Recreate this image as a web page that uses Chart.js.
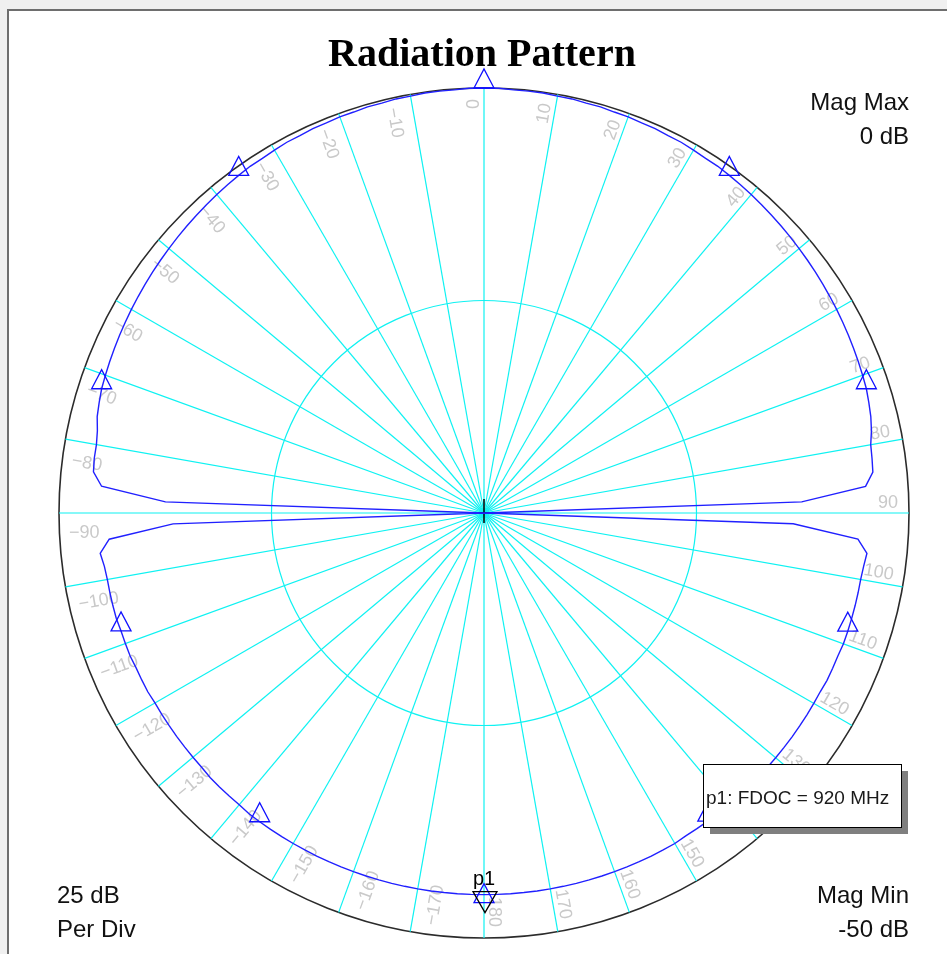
<!DOCTYPE html>
<html>
<head>
<meta charset="utf-8">
<title>Radiation Pattern</title>
<script src="https://cdn.jsdelivr.net/npm/chart.js@4.4.1/dist/chart.umd.min.js"></script>
<style>
  html, body { margin: 0; padding: 0; background: #f0f0f0; }
  canvas { display: block; }
</style>
</head>
<body>
<canvas id="pattern" width="947" height="954"></canvas>
<script>
// Sample angles in degrees, clockwise from boresight (top), one sample every 2 degrees.
const sampleAngles = [
    0,   2,   4,   6,   8,  10,  12,  14,  16,  18,  20,  22,  24,  26,  28,  30,  32,  34,
   36,  38,  40,  42,  44,  46,  48,  50,  52,  54,  56,  58,  60,  62,  64,  66,  68,  70,
   72,  74,  76,  78,  80,  82,  84,  86,  88,  90,  92,  94,  96,  98, 100, 102, 104, 106,
  108, 110, 112, 114, 116, 118, 120, 122, 124, 126, 128, 130, 132, 134, 136, 138, 140, 142,
  144, 146, 148, 150, 152, 154, 156, 158, 160, 162, 164, 166, 168, 170, 172, 174, 176, 178,
  180, 182, 184, 186, 188, 190, 192, 194, 196, 198, 200, 202, 204, 206, 208, 210, 212, 214,
  216, 218, 220, 222, 224, 226, 228, 230, 232, 234, 236, 238, 240, 242, 244, 246, 248, 250,
  252, 254, 256, 258, 260, 262, 264, 266, 268, 270, 272, 274, 276, 278, 280, 282, 284, 286,
  288, 290, 292, 294, 296, 298, 300, 302, 304, 306, 308, 310, 312, 314, 316, 318, 320, 322,
  324, 326, 328, 330, 332, 334, 336, 338, 340, 342, 344, 346, 348, 350, 352, 354, 356, 358
];

// Normalised gain in dB at each sample angle (FDOC = 920 MHz).
const gainDb = [
   0.0,  0.0, -0.1, -0.1, -0.1, -0.2, -0.2, -0.3, -0.3, -0.4, -0.4, -0.5, -0.5, -0.6, -0.6, -0.7, -0.8, -0.8,
  -0.9, -1.0, -1.1, -1.2, -1.3, -1.4, -1.5, -1.6, -1.7, -1.8, -1.9, -2.0, -2.1, -2.2, -2.3, -2.4, -2.5, -2.6,
  -2.7, -2.9, -3.1, -3.4, -3.8, -3.9, -4.0, -5.0, -12.6, -50.0, -13.6, -5.9, -4.7, -4.9, -5.0, -5.0, -5.0, -5.0,
  -5.0, -5.0, -5.1, -5.1, -5.1, -5.2, -5.2, -5.2, -5.2, -5.2, -5.2, -5.2, -5.2, -5.2, -5.2, -5.2, -5.2, -5.2,
  -5.2, -5.2, -5.2, -5.1, -5.1, -5.1, -5.1, -5.1, -5.1, -5.1, -5.1, -5.1, -5.1, -5.1, -5.1, -5.1, -5.1, -5.1,
  -5.1, -5.1, -5.1, -5.1, -5.1, -5.1, -5.1, -5.1, -5.1, -5.1, -5.1, -5.1, -5.1, -5.1, -5.1, -5.1, -5.1, -5.1,
  -5.1, -5.1, -5.2, -5.2, -5.2, -5.2, -5.3, -5.3, -5.3, -5.3, -5.3, -5.3, -5.3, -5.2, -5.2, -5.2, -5.1, -5.1,
  -5.1, -5.0, -5.0, -5.0, -5.0, -4.9, -4.6, -5.8, -13.4, -50.0, -12.5, -4.9, -3.8, -3.7, -3.7, -3.5, -3.1, -2.9,
  -2.7, -2.6, -2.5, -2.4, -2.3, -2.2, -2.1, -2.0, -1.9, -1.8, -1.7, -1.6, -1.5, -1.4, -1.3, -1.2, -1.1, -1.0,
  -0.9, -0.8, -0.8, -0.7, -0.6, -0.6, -0.5, -0.5, -0.4, -0.4, -0.3, -0.3, -0.2, -0.2, -0.1, -0.1, -0.1, 0.0
];

// Spoke labels (degrees) drawn along the angle lines, every 10 degrees.
const spokeAngles = [0, 10, 20, 30, 40, 50, 60, 70, 80, 90, 100, 110, 120, 130, 140, 150, 160, 170, 180,
  -10, -20, -30, -40, -50, -60, -70, -80, -90, -100, -110, -120, -130, -140, -150, -160, -170];

// Triangle markers placed on the trace.
const markerAngles = [0, 36, 72, 108, 144, 216, 252, 288, 324];
const activeMarkerAngle = 180;
const activeMarkerName = 'p1';
const markerReadout = 'p1: FDOC = 920 MHz';

const titleText = 'Radiation Pattern';
const magMax = ['Mag Max', '0 dB'];
const magMin = ['Mag Min', '-50 dB'];
const perDiv = ['25 dB', 'Per Div'];

const R_MIN = -50, R_MAX = 0, R_STEP = 25;

const CYAN = '#0ff2f2';
const TRACE = '#2020ff';
const SAMPLE_STEP = sampleAngles[1] - sampleAngles[0];

function indexOfAngle(deg) {
  return ((Math.round(deg / SAMPLE_STEP) % sampleAngles.length) + sampleAngles.length) % sampleAngles.length;
}

function triangle(ctx, x, y, w, h, up, color) {
  ctx.beginPath();
  ctx.moveTo(x - w / 2, y);
  ctx.lineTo(x + w / 2, y);
  ctx.lineTo(x, up ? y - h : y + h);
  ctx.closePath();
  ctx.strokeStyle = color;
  ctx.lineWidth = 1.3;
  ctx.stroke();
}

const framePlugin = {
  id: 'frame',
  beforeDraw(chart) {
    const ctx = chart.ctx;
    ctx.save();
    ctx.fillStyle = '#f0f0f0';
    ctx.fillRect(0, 0, chart.width, chart.height);
    ctx.fillStyle = '#ffffff';
    ctx.fillRect(8, 9, chart.width, chart.height);
    ctx.strokeStyle = '#6e6e6e';
    ctx.lineWidth = 2;
    ctx.beginPath();
    ctx.moveTo(8, chart.height);
    ctx.lineTo(8, 10);
    ctx.lineTo(chart.width, 10);
    ctx.stroke();
    ctx.restore();
  }
};

const spokeLabelPlugin = {
  id: 'spokeLabels',
  beforeDatasetsDraw(chart) {
    const scale = chart.scales.r;
    const ctx = chart.ctx;
    const R = scale.drawingArea;
    ctx.save();
    ctx.font = '18px "Liberation Sans", Arial, sans-serif';
    ctx.fillStyle = '#c9c9c9';
    spokeAngles.forEach(a => {
      const idx = indexOfAngle(a);
      if (a >= 0) {
        const p = scale.getPointPosition(idx, R - 11);
        ctx.save();
        ctx.translate(p.x, p.y);
        ctx.rotate((a - 90) * Math.PI / 180);
        ctx.textAlign = 'right';
        ctx.textBaseline = 'alphabetic';
        ctx.fillText(String(a), 0, -5);
        ctx.restore();
      } else {
        const p = scale.getPointPosition(idx, R - 10);
        ctx.save();
        ctx.translate(p.x, p.y);
        ctx.rotate((a + 90) * Math.PI / 180);
        ctx.textAlign = 'left';
        ctx.textBaseline = 'alphabetic';
        ctx.fillText(String(a).replace('-', '\u2212'), 0, 25);
        ctx.restore();
      }
    });
    // small cross at the pattern origin
    ctx.strokeStyle = '#000000';
    ctx.lineWidth = 1.5;
    ctx.beginPath();
    ctx.moveTo(scale.xCenter, scale.yCenter - 14);
    ctx.lineTo(scale.xCenter, scale.yCenter + 10);
    ctx.moveTo(scale.xCenter - 6, scale.yCenter);
    ctx.lineTo(scale.xCenter + 6, scale.yCenter);
    ctx.stroke();
    ctx.restore();
  }
};

const markerPlugin = {
  id: 'markers',
  afterDatasetsDraw(chart) {
    const scale = chart.scales.r;
    const ctx = chart.ctx;
    ctx.save();
    markerAngles.forEach(a => {
      const idx = indexOfAngle(a);
      const p = scale.getPointPositionForValue(idx, gainDb[idx]);
      triangle(ctx, p.x, p.y, 20, 19, true, '#1010ff');
    });

    // active marker with its name
    const ai = indexOfAngle(activeMarkerAngle);
    const ap = scale.getPointPositionForValue(ai, gainDb[ai]);
    triangle(ctx, ap.x, ap.y + 8, 20, 19, true, '#1010ff');
    triangle(ctx, ap.x + 1, ap.y - 3, 24, 21, false, '#000000');
    ctx.fillStyle = '#000000';
    ctx.font = '20px "Liberation Sans", Arial, sans-serif';
    ctx.textAlign = 'center';
    ctx.textBaseline = 'alphabetic';
    ctx.fillText(activeMarkerName, ap.x, ap.y - 10);

    // marker readout box with drop shadow
    const bx = 703, by = 764, bw = 198, bh = 63;
    ctx.fillStyle = '#7f7f7f';
    ctx.fillRect(bx + 7, by + 7, bw, bh);
    ctx.fillStyle = '#ffffff';
    ctx.fillRect(bx, by, bw, bh);
    ctx.strokeStyle = '#000000';
    ctx.lineWidth = 1;
    ctx.strokeRect(bx + 0.5, by + 0.5, bw, bh);
    ctx.fillStyle = '#1a1a1a';
    ctx.font = '19px "Liberation Sans", Arial, sans-serif';
    ctx.textAlign = 'left';
    ctx.fillText(markerReadout, bx + 3, by + 40);
    ctx.restore();
  },
  afterDraw(chart) {
    const ctx = chart.ctx;
    ctx.save();
    ctx.fillStyle = '#000000';
    ctx.font = 'bold 40px "Liberation Serif", "Times New Roman", serif';
    ctx.textAlign = 'center';
    ctx.textBaseline = 'alphabetic';
    ctx.fillText(titleText, 482, 66);

    ctx.font = '24px "Liberation Sans", Arial, sans-serif';
    ctx.fillStyle = '#111111';
    ctx.textAlign = 'right';
    ctx.fillText(magMax[0], 909, 110);
    ctx.fillText(magMax[1], 909, 144);
    ctx.fillText(magMin[0], 909, 903);
    ctx.fillText(magMin[1], 909, 937);
    ctx.textAlign = 'left';
    ctx.fillText(perDiv[0], 57, 903);
    ctx.fillText(perDiv[1], 57, 937);
    ctx.restore();
  }
};

new Chart(document.getElementById('pattern'), {
  type: 'radar',
  data: {
    labels: sampleAngles.map(String),
    datasets: [{
      label: 'FDOC = 920 MHz',
      data: gainDb,
      borderColor: TRACE,
      borderWidth: 1.4,
      pointRadius: 0,
      pointHoverRadius: 0,
      fill: false,
      tension: 0
    }]
  },
  options: {
    responsive: false,
    animation: false,
    events: [],
    layout: { padding: { left: 59, right: 38, top: 88, bottom: 16 } },
    plugins: {
      legend: { display: false },
      tooltip: { enabled: false },
      title: { display: false }
    },
    scales: {
      r: {
        min: R_MIN,
        max: R_MAX,
        startAngle: 0,
        beginAtZero: false,
        ticks: { display: false, stepSize: R_STEP },
        pointLabels: { display: false },
        grid: {
          circular: true,
          color: c => (c.tick && c.tick.value === R_MAX) ? '#2b2b2b' : CYAN,
          lineWidth: c => (c.tick && c.tick.value === R_MAX) ? 1.6 : 1.2
        },
        angleLines: {
          display: true,
          color: c => (sampleAngles[c.index] % 10 === 0) ? CYAN : 'rgba(0,0,0,0)',
          lineWidth: 1.2
        }
      }
    }
  },
  plugins: [framePlugin, spokeLabelPlugin, markerPlugin]
});
</script>
</body>
</html>
